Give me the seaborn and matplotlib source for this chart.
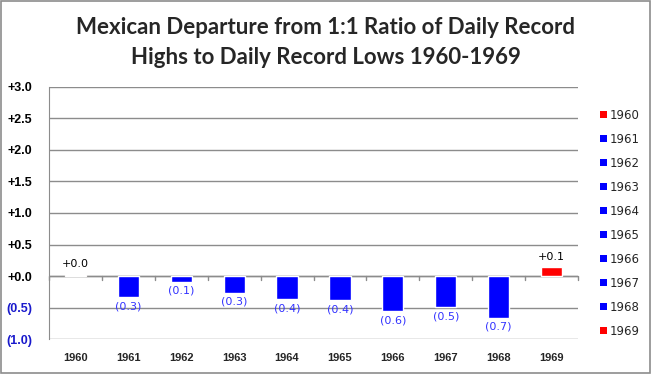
import matplotlib
matplotlib.use("Agg")
import matplotlib.pyplot as plt
import seaborn as sns
import pandas as pd
from matplotlib.patches import Patch

years = ["1960", "1961", "1962", "1963", "1964", "1965", "1966", "1967", "1968", "1969"]
values = [0.025, -0.33, -0.09, -0.26, -0.36, -0.38, -0.55, -0.49, -0.66, 0.14]
labels = ["+0.0", "(0.3)", "(0.1)", "(0.3)", "(0.4)", "(0.4)", "(0.6)", "(0.5)", "(0.7)", "+0.1"]
yticks = [3.0, 2.5, 2.0, 1.5, 1.0, 0.5, 0.0, -0.5, -1.0]
ytick_labels = ["+3.0", "+2.5", "+2.0", "+1.5", "+1.0", "+0.5", "+0.0", "(0.5)", "(1.0)"]

RED = "#ff0000"
BLUE = "#0000ff"
colors = [RED if v > 0 else BLUE for v in values]
df = pd.DataFrame({"year": years, "value": values})

sns.set_style("white")
plt.rcParams["font.family"] = ["DejaVu Sans"]

fig = plt.figure(figsize=(6.51, 3.74), dpi=100)
ax = fig.add_axes([49/651, 1 - 339.3/374, (578-49)/651, (339.3-86.5)/374])

sns.barplot(data=df, x="year", y="value", hue="year", palette=dict(zip(years, colors)),
            dodge=False, width=0.4, legend=False, ax=ax, saturation=1)
for p in ax.patches:
    p.set_zorder(3)

ax.set_ylim(-1.0, 3.0)
ax.set_xlim(-0.5, len(years) - 0.5)
ax.set_yticks(yticks)
ax.set_yticklabels(ytick_labels, fontweight="bold", fontsize=9, family="Liberation Sans")
for t, v in zip(ax.get_yticklabels(), yticks):
    t.set_color("#1a1acc" if v < 0 else "black")
ax.grid(axis="y", color="#8c8c8c", linewidth=1)
ax.set_axisbelow(True)
for s in ["top", "right", "bottom"]:
    ax.spines[s].set_visible(False)
ax.spines["left"].set_color("#8c8c8c")
ax.tick_params(axis="y", length=5, color="#8c8c8c", pad=7)
ax.tick_params(axis="x", length=0, pad=10)
ax.set_xticks(range(len(years)))
ax.set_xticklabels(years, fontweight="bold", fontsize=8, family="Liberation Sans")
ax.set_xlabel("")
ax.set_ylabel("")

# zero axis with tick marks between categories
ax.axhline(0, color="#8c8c8c", linewidth=1, zorder=2)
for i in range(len(years) + 1):
    ax.plot([i - 0.5, i - 0.5], [0, -0.06], color="#8c8c8c", linewidth=1, clip_on=False, zorder=2)

for i, (v, lab) in enumerate(zip(values, labels)):
    if v >= 0:
        ax.annotate(lab, (i, v), xytext=(0, 4), textcoords="offset points",
                    ha="center", va="bottom", fontsize=8, color="black")
    else:
        ax.annotate(lab, (i, v), xytext=(0, -3), textcoords="offset points",
                    ha="center", va="top", fontsize=8, color="#3333ff")

fig.text(0.5, 1 - 27/374, "Mexican Departure from 1:1 Ratio of Daily Record",
         ha="center", va="center", fontsize=16, fontweight="bold", family="Lato")
fig.text(0.5, 1 - 57/374, "Highs to Daily Record Lows 1960-1969",
         ha="center", va="center", fontsize=16, fontweight="bold", family="Lato")

handles = [Patch(facecolor=c, edgecolor="none") for c in colors]
fig.legend(handles, years, loc="upper left", bbox_to_anchor=(594/651, 1 - 103/374),
           frameon=False, fontsize=8.5, handlelength=0.6, handleheight=0.6,
           handletextpad=0.25, labelspacing=0.93, borderpad=0)

fig.patches.append(plt.Rectangle((0.001, 0.002), 0.997, 0.996, transform=fig.transFigure,
                                 fill=False, edgecolor="#8c8c8c", linewidth=1.2))
fig.savefig("out.png", dpi=100)
